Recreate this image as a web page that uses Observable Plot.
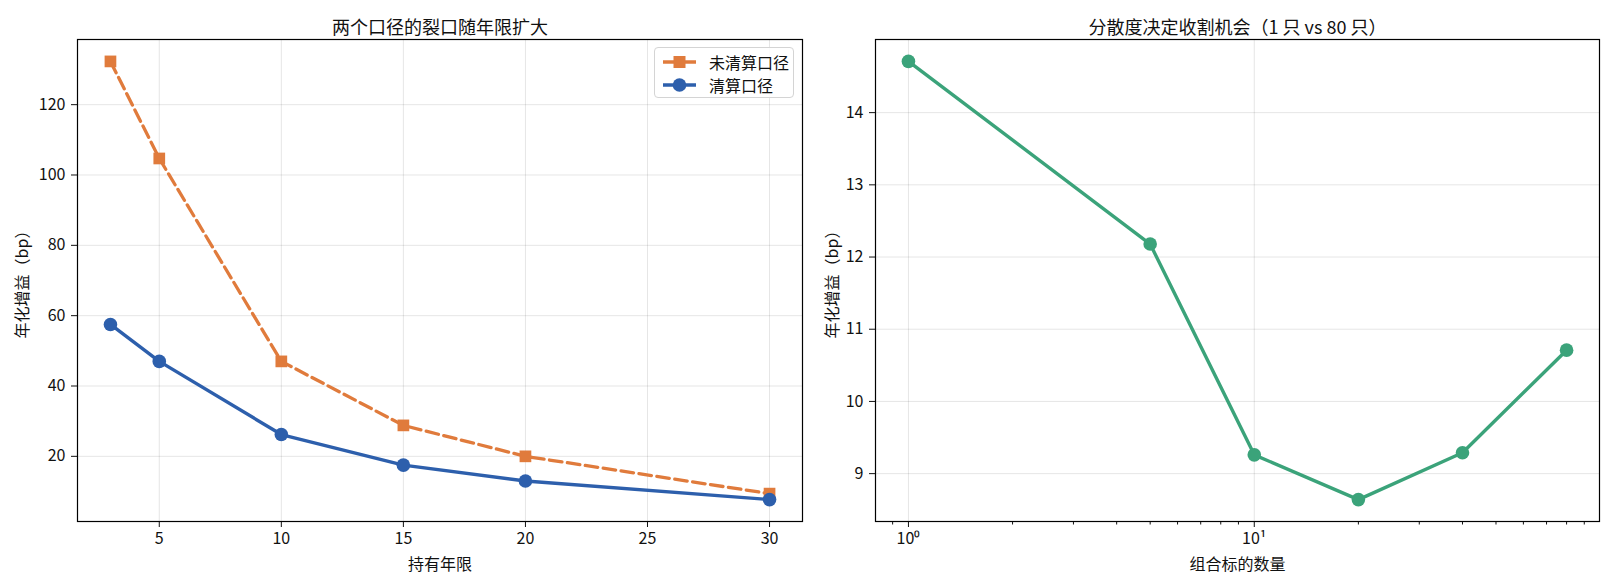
<!DOCTYPE html>
<html>
<head>
<meta charset="utf-8">
<script src="https://cdn.jsdelivr.net/npm/d3@7"></script>
<script src="https://cdn.jsdelivr.net/npm/@observablehq/plot@0.6"></script>
<style>
  body { margin: 0; background: #fff; }
  #wrap { position: relative; width: 1612px; height: 588px; font-family: 'Noto Sans CJK SC', sans-serif; overflow: hidden; }
  .panel { position: absolute; top: 0; }
  #legend { position: absolute; left: 654px; top: 47px; width: 138px; height: 49px; border: 1px solid #d4d4d4; border-radius: 4px; background: rgba(255,255,255,0.85); font-size: 16px; color: #111; }
  #legend .row { position: absolute; left: 6px; display: flex; align-items: center; height: 20px; }
  #legend svg { display: block; }
  #legend span { margin-left: 12px; line-height: 20px; }
</style>
</head>
<body>
<div id="wrap"></div>
<script>
// ---- data ----
const years = [3, 5, 10, 15, 20, 30];
const uncleared = [132.3, 104.7, 47.0, 28.8, 20.0, 9.4];
const cleared = [57.5, 47.0, 26.2, 17.5, 13.0, 7.7];
const seriesNames = ["未清算口径", "清算口径"];
const holdings = [1, 5, 10, 20, 40, 80];
const gain = [14.71, 12.18, 9.26, 8.64, 9.29, 10.71];
const leftYTicks = [20, 40, 60, 80, 100, 120];
const leftXTicks = [5, 10, 15, 20, 25, 30];
const rightYTicks = [9, 10, 11, 12, 13, 14];
const rightMajor = [1, 10];
const rightMinor = [0.9, 2, 3, 4, 5, 6, 7, 8, 9, 20, 30, 40, 50, 60, 70, 80, 90];
const titles = ["两个口径的裂口随年限扩大", "分散度决定收割机会（1 只 vs 80 只）"];
const yLabel = "年化增益（bp）";
const xLabels = ["持有年限", "组合标的数量"];

const ORANGE = "#e07b3c", BLUE = "#2d5fac", GREEN = "#3ba37a";
const FONT = "'Noto Sans CJK SC', sans-serif";
const TICK_FS = 16, LABEL_FS = 16, TITLE_FS = 18;

const unclearedData = years.map((y, i) => ({x: y, v: uncleared[i]}));
const clearedData = years.map((y, i) => ({x: y, v: cleared[i]}));
const gainData = holdings.map((h, i) => ({x: h, v: gain[i]}));

const wrap = document.getElementById("wrap");

const left = Plot.plot({
  width: 812, height: 588,
  marginLeft: 77, marginRight: 10, marginTop: 39, marginBottom: 67,
  style: {fontFamily: FONT, fontSize: TICK_FS + "px", color: "#111", background: "transparent", overflow: "visible"},
  x: {domain: [1.65, 31.35]},
  y: {domain: [1.47, 138.53]},
  marks: [
    Plot.gridX(leftXTicks, {stroke: "#000", strokeOpacity: 0.1}),
    Plot.gridY(leftYTicks, {stroke: "#000", strokeOpacity: 0.1}),
    Plot.axisX({ticks: leftXTicks, tickSize: 6, tickPadding: 5, tickFormat: d => String(d), label: xLabels[0], labelAnchor: "center", labelArrow: "none", labelOffset: 48, fontSize: TICK_FS}),
    Plot.axisY({ticks: leftYTicks, tickSize: 6, tickPadding: 6, tickFormat: d => String(d), label: yLabel, labelAnchor: "center", labelArrow: "none", labelOffset: 61, fontSize: TICK_FS}),
    Plot.line(unclearedData, {x: "x", y: "v", stroke: ORANGE, strokeWidth: 3.3, strokeDasharray: "12.6,5.5"}),
    Plot.dot(unclearedData, {x: "x", y: "v", symbol: "square", fill: ORANGE, r: 6.6}),
    Plot.line(clearedData, {x: "x", y: "v", stroke: BLUE, strokeWidth: 3.4}),
    Plot.dot(clearedData, {x: "x", y: "v", fill: BLUE, r: 6.8}),
    Plot.frame({stroke: "#000", strokeWidth: 1.2}),
    Plot.text([titles[0]], {frameAnchor: "top", dy: -18.5, fontSize: TITLE_FS, fill: "#111"})
  ]
});
left.classList.add("panel");
left.style.left = "0px";
wrap.appendChild(left);

const sup = {"0": "⁰", "1": "¹", "2": "²"};
const right = Plot.plot({
  width: 800, height: 588,
  marginLeft: 63, marginRight: 13, marginTop: 39, marginBottom: 67,
  style: {fontFamily: FONT, fontSize: TICK_FS + "px", color: "#111", background: "transparent", overflow: "visible"},
  x: {type: "log", domain: [0.803, 99.6]},
  y: {domain: [8.337, 15.013]},
  marks: [
    Plot.gridX(rightMajor, {stroke: "#000", strokeOpacity: 0.1}),
    Plot.gridY(rightYTicks, {stroke: "#000", strokeOpacity: 0.1}),
    Plot.axisX({ticks: rightMinor, tickSize: 3.5, tickFormat: () => "", label: null}),
    Plot.axisX({ticks: rightMajor, tickSize: 6, tickPadding: 5, tickFormat: d => "10" + sup[String(Math.round(Math.log10(d)))], label: xLabels[1], labelAnchor: "center", labelArrow: "none", labelOffset: 48, fontSize: TICK_FS}),
    Plot.axisY({ticks: rightYTicks, tickSize: 6, tickPadding: 6, tickFormat: d => String(d), label: yLabel, labelAnchor: "center", labelArrow: "none", labelOffset: 49, fontSize: TICK_FS}),
    Plot.line(gainData, {x: "x", y: "v", stroke: GREEN, strokeWidth: 3.4}),
    Plot.dot(gainData, {x: "x", y: "v", fill: GREEN, r: 6.8}),
    Plot.frame({stroke: "#000", strokeWidth: 1.2}),
    Plot.text([titles[1]], {frameAnchor: "top", dy: -18.5, fontSize: TITLE_FS, fill: "#111"})
  ]
});
right.classList.add("panel");
right.style.left = "812px";
wrap.appendChild(right);

// legend
const legend = document.createElement("div");
legend.id = "legend";
const legendItems = [
  {name: seriesNames[0], color: ORANGE, symbol: "square", dash: "12.6,5.5"},
  {name: seriesNames[1], color: BLUE, symbol: "circle", dash: null}
];
legendItems.forEach((it, i) => {
  const row = document.createElement("div");
  row.className = "row";
  row.style.top = (4 + i * 23) + "px";
  const ns = "http://www.w3.org/2000/svg";
  const svg = document.createElementNS(ns, "svg");
  svg.setAttribute("width", 36); svg.setAttribute("height", 20);
  const ln = document.createElementNS(ns, "line");
  ln.setAttribute("x1", 2); ln.setAttribute("x2", 35); ln.setAttribute("y1", 10); ln.setAttribute("y2", 10);
  ln.setAttribute("stroke", it.color); ln.setAttribute("stroke-width", 3.4);
  svg.appendChild(ln);
  let m;
  if (it.symbol === "square") {
    m = document.createElementNS(ns, "rect");
    m.setAttribute("x", 12.5); m.setAttribute("y", 4); m.setAttribute("width", 12); m.setAttribute("height", 12);
  } else {
    m = document.createElementNS(ns, "circle");
    m.setAttribute("cx", 18.5); m.setAttribute("cy", 10); m.setAttribute("r", 6.8);
  }
  m.setAttribute("fill", it.color);
  svg.appendChild(m);
  row.appendChild(svg);
  const sp = document.createElement("span");
  sp.textContent = it.name;
  row.appendChild(sp);
  legend.appendChild(row);
});
wrap.appendChild(legend);
</script>
</body>
</html>
